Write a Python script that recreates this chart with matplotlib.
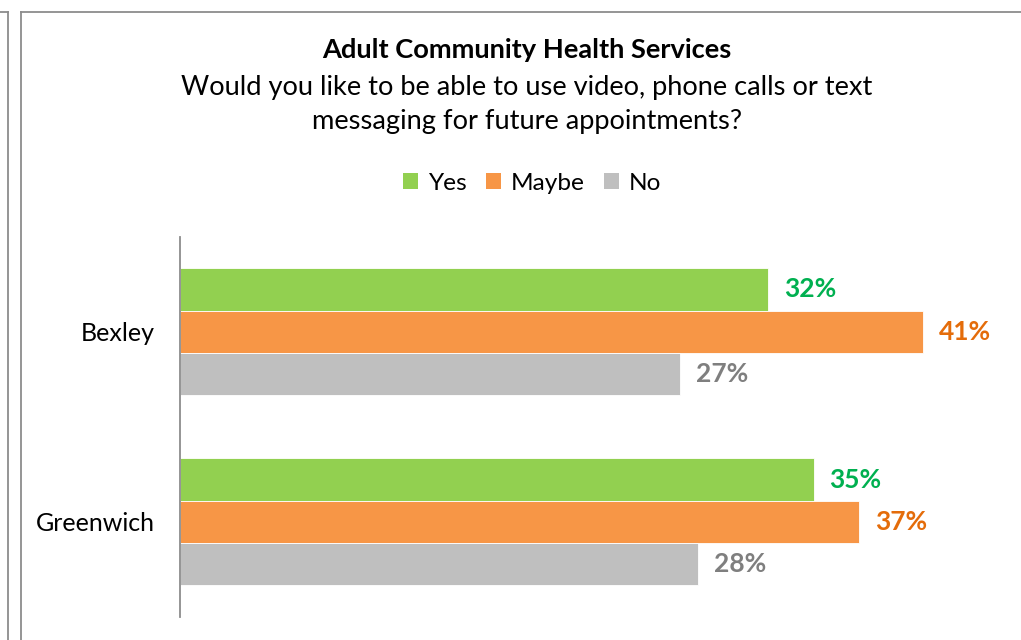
import matplotlib
matplotlib.use("Agg")
import matplotlib.pyplot as plt
from matplotlib.patches import Patch
from matplotlib.lines import Line2D
import numpy as np

plt.rcParams['font.family'] = ['Lato', 'DejaVu Sans']

categories = ["Bexley", "Greenwich"]
series = ["Yes", "Maybe", "No"]
yes_vals = [32.1, 34.6]
maybe_vals = [40.6, 37.1]
no_vals = [27.3, 28.3]

bar_colors = ["#92D050", "#F79646", "#BFBFBF"]
label_colors = ["#00B050", "#E46C0A", "#7F7F7F"]

title = "Adult Community Health Services"
subtitle = "Would you like to be able to use video, phone calls or text\nmessaging for future appointments?"

W, H = 1021, 640
fig = plt.figure(figsize=(W / 100, H / 100), dpi=100)
fig.patch.set_facecolor("white")

# axes placement in pixels
ax_left, ax_top, ax_bottom = 180, 236.7, 617
px_per_unit = 18.31
xmax = 45
ax = fig.add_axes([ax_left / W, 1 - ax_bottom / H, xmax * px_per_unit / W, (ax_bottom - ax_top) / H])

y = np.arange(len(categories))
bh = 0.2225
all_vals = [yes_vals, maybe_vals, no_vals]
for i, (vals, c, lc, name) in enumerate(zip(all_vals, bar_colors, label_colors, series)):
    pos = y + (i - 1) * bh
    ax.barh(pos, vals, height=bh, color=c, edgecolor="white", linewidth=0.6, label=name)
    for p, v in zip(pos, vals):
        ax.annotate(f"{round(v):d}%", xy=(v, p), xytext=(11.5, 0), textcoords="offset points",
                    ha="left", va="center", fontsize=19, fontweight="bold", color=lc)

ax.set_xlim(0, xmax)
ax.set_ylim(1.5, -0.5)
ax.set_yticks(y)
ax.set_yticklabels(categories, fontsize=18)
ax.tick_params(axis="y", length=0, pad=18)
ax.set_xticks([])
for s in ["top", "right", "bottom"]:
    ax.spines[s].set_visible(False)
ax.spines["left"].set_color("#8C8C8C")
ax.spines["left"].set_linewidth(1.3)

fig.text(527 / W, 1 - 50 / H, title, ha="center", va="center", fontsize=19.6, fontweight="bold")
fig.text(527 / W, 1 - 104.5 / H, subtitle, ha="center", va="center", fontsize=19.6, linespacing=1.49)

handles = [Patch(facecolor=c, edgecolor="none") for c in bar_colors]
fig.legend(handles, series, loc="center", bbox_to_anchor=(532 / W, 1 - 183 / H), ncol=3,
           frameon=False, fontsize=17.6, handlelength=0.6, handleheight=0.6, handletextpad=0.4,
           columnspacing=0.8)

# outer borders
bc = "#8C8C8C"
fig.add_artist(Line2D([0, 7.5 / W], [1 - 11.5 / H] * 2, transform=fig.transFigure, color=bc, lw=1.3))
fig.add_artist(Line2D([7.5 / W] * 2, [1 - 11.5 / H, 0], transform=fig.transFigure, color=bc, lw=1.3))
fig.add_artist(Line2D([20.5 / W, 1], [1 - 12 / H] * 2, transform=fig.transFigure, color=bc, lw=1.3))
fig.add_artist(Line2D([20.5 / W] * 2, [1 - 12 / H, 0], transform=fig.transFigure, color=bc, lw=1.3))

fig.savefig("out.png", dpi=100, facecolor="white")
